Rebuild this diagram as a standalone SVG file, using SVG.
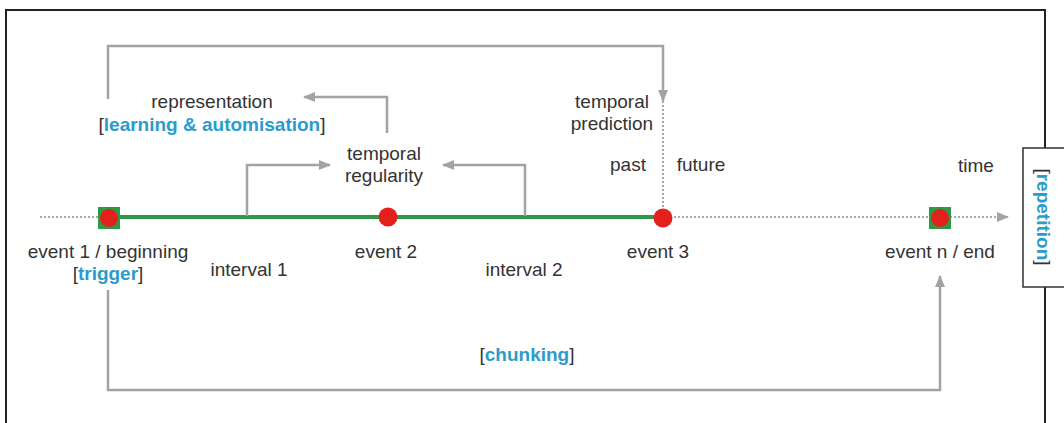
<svg xmlns="http://www.w3.org/2000/svg" width="1064" height="423" viewBox="0 0 1064 423">
<style>
text{font-family:"Liberation Sans",Arial,sans-serif;font-size:19px;fill:#333}
.b{font-weight:bold;fill:#2a9ccb}
.c{fill:none;stroke:#a3a3a3;stroke-width:2.5}
.dot{fill:none;stroke:#a8a8a8;stroke-width:2;stroke-dasharray:2 2}
.m{text-anchor:middle}
.e{text-anchor:end}
</style>
<defs>
<marker id="ah" viewBox="0 0 12 10" refX="11" refY="5" markerWidth="12" markerHeight="10" markerUnits="userSpaceOnUse" orient="auto">
<path d="M0,0 L12,5 L0,10 Z" fill="#a3a3a3"/>
</marker>
</defs>
<rect x="6" y="10" width="1039" height="425" fill="#fff" stroke="#222" stroke-width="2"/>
<g id="connectors">
<line class="dot" x1="40" y1="217" x2="98" y2="217"/>
<line class="dot" x1="670" y1="217" x2="1008" y2="217" marker-end="url(#ah)"/>
<line class="dot" x1="663" y1="101" x2="663" y2="208"/>
<line x1="120" y1="217" x2="655" y2="217" stroke="#2e9a45" stroke-width="4"/>
<path class="c" d="M108,99 V46 H663 V101" marker-end="url(#ah)"/>
<path class="c" d="M387,133 V97 H304" marker-end="url(#ah)"/>
<path class="c" d="M247,216 V165 H330" marker-end="url(#ah)"/>
<path class="c" d="M525,216 V165 H443" marker-end="url(#ah)"/>
<path class="c" d="M108,290 V390 H940 V276" marker-end="url(#ah)"/>
</g>
<g id="event1">
<rect x="98" y="207" width="22" height="22" fill="#2e9a45"/>
<circle cx="109" cy="218" r="9" fill="#e3201c"/>
<text class="m" x="108" y="258">event 1 / beginning</text>
<text class="m" x="108" y="280">[<tspan class="b">trigger</tspan>]</text>
</g>
<g id="interval1"><text class="m" x="249" y="276">interval 1</text></g>
<g id="event2">
<circle cx="388" cy="217" r="9.5" fill="#e3201c"/>
<text class="m" x="386" y="258">event 2</text>
</g>
<g id="interval2"><text class="m" x="524" y="276">interval 2</text></g>
<g id="event3">
<circle cx="663" cy="218" r="9.5" fill="#e3201c"/>
<text class="m" x="658" y="258">event 3</text>
</g>
<g id="eventn">
<rect x="929" y="207" width="22" height="22" fill="#2e9a45"/>
<circle cx="940" cy="218" r="9" fill="#e3201c"/>
<text class="m" x="940" y="258">event n / end</text>
</g>
<g id="representation">
<text class="m" x="212" y="108">representation</text>
<text class="m" x="212" y="131">[<tspan class="b">learning &amp; automisation</tspan>]</text>
</g>
<g id="regularity">
<text class="m" x="384" y="160">temporal</text>
<text class="m" x="384" y="182">regularity</text>
</g>
<g id="prediction">
<text class="m" x="612" y="108">temporal</text>
<text class="m" x="612" y="130">prediction</text>
</g>
<g id="pastfuture">
<text class="m" x="628" y="171">past</text>
<text class="m" x="701" y="171">future</text>
<text class="m" x="976" y="172">time</text>
</g>
<g id="chunking"><text class="m" x="527" y="361">[<tspan class="b">chunking</tspan>]</text></g>
<g id="repetition">
<rect x="1023" y="148" width="45" height="139" fill="#fff" stroke="#333" stroke-width="1.5"/>
<text class="m" transform="translate(1037,217) rotate(90)">[<tspan class="b">repetition</tspan>]</text>
</g>
</svg>
